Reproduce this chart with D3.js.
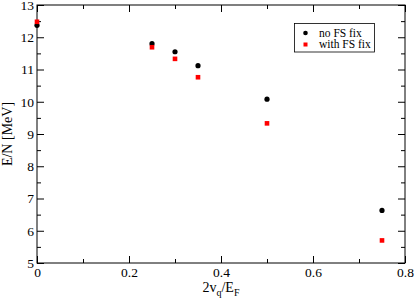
<!DOCTYPE html>
<html>
<head>
<meta charset="utf-8">
<script src="https://cdn.jsdelivr.net/npm/d3@7"></script>
<style>
  body { margin: 0; background: #fff; }
  svg { display: block; font-family: "Liberation Serif", "DejaVu Serif", serif; }
</style>
</head>
<body>
<div id="chart"></div>
<script>
// data
const xValues = [0, 0.25, 0.3, 0.35, 0.5, 0.75];
const noFix = [12.37, 11.8, 11.55, 11.12, 10.08, 6.63];
const withFix = [12.48, 11.69, 11.33, 10.76, 9.33, 5.70];
const xTicks = [0, 0.2, 0.4, 0.6, 0.8];
const xMinor = [0.1, 0.3, 0.5, 0.7];
const yTicks = [5, 6, 7, 8, 9, 10, 11, 12, 13];
const yMinor = [5.5, 6.5, 7.5, 8.5, 9.5, 10.5, 11.5, 12.5];
const seriesNames = ["no FS fix", "with FS fix"];

const W = 415, H = 303;
const margin = { top: 5, right: 10, bottom: 40, left: 37 };
const width = W - margin.left - margin.right;
const height = H - margin.top - margin.bottom;

const svg = d3.select("#chart").append("svg")
    .attr("width", W)
    .attr("height", H);

const g = svg.append("g")
    .attr("transform", "translate(" + margin.left + "," + margin.top + ")");

const x = d3.scaleLinear().domain([0, 0.8]).range([0, width]);
const y = d3.scaleLinear().domain([5, 13]).range([height, 0]);

const fmt = d3.format("~g");

// major + minor ticks on all four sides, pointing inward
function addAxis(axisFn, scale, values, size, labels, transform) {
    const a = axisFn(scale).tickValues(values).tickSizeInner(-size).tickSizeOuter(0);
    if (labels) a.tickFormat(fmt).tickPadding(axisFn === d3.axisBottom ? 4 : 3);
    else a.tickFormat("");
    const ax = g.append("g").attr("transform", transform).call(a);
    ax.select(".domain").remove();
    ax.selectAll("line").attr("stroke", "#000");
    ax.selectAll("text")
        .attr("fill", "#000")
        .style("font-family", "Liberation Serif, serif")
        .style("font-size", "13.5px");
    return ax;
}

addAxis(d3.axisBottom, x, xTicks, 7, true, "translate(0," + height + ")");
addAxis(d3.axisBottom, x, xMinor, 4, false, "translate(0," + height + ")");
addAxis(d3.axisTop, x, xTicks, 7, false, "translate(0,0)");
addAxis(d3.axisTop, x, xMinor, 4, false, "translate(0,0)");
addAxis(d3.axisLeft, y, yTicks, 7, true, "translate(0,0)");
addAxis(d3.axisLeft, y, yMinor, 4, false, "translate(0,0)");
addAxis(d3.axisRight, y, yTicks, 7, false, "translate(" + width + ",0)");
addAxis(d3.axisRight, y, yMinor, 4, false, "translate(" + width + ",0)");

// frame
g.append("rect")
    .attr("x", 0).attr("y", 0)
    .attr("width", width).attr("height", height)
    .attr("fill", "none")
    .attr("stroke", "#000")
    .attr("stroke-width", 1);

// points: black circles, red squares
g.append("g").selectAll("circle")
    .data(xValues.map((d, i) => ({ x: d, y: noFix[i] })))
    .enter().append("circle")
    .attr("cx", d => x(d.x))
    .attr("cy", d => y(d.y))
    .attr("r", 2.6)
    .attr("fill", "#000");

g.append("g").selectAll("rect")
    .data(xValues.map((d, i) => ({ x: d, y: withFix[i] })))
    .enter().append("rect")
    .attr("x", d => x(d.x) - 2.3)
    .attr("y", d => y(d.y) - 2.3)
    .attr("width", 4.6)
    .attr("height", 4.6)
    .attr("fill", "#ff0000");

// legend
const lg = svg.append("g").attr("transform", "translate(294.5,23.5)");
lg.append("rect")
    .attr("width", 80).attr("height", 28.5)
    .attr("fill", "#fff").attr("stroke", "#000").attr("stroke-width", 0.8);
lg.append("circle").attr("cx", 11).attr("cy", 9.5).attr("r", 2.3).attr("fill", "#000");
lg.append("rect").attr("x", 9).attr("y", 19).attr("width", 4).attr("height", 4).attr("fill", "#ff0000");
lg.selectAll("text.lab")
    .data(seriesNames)
    .enter().append("text")
    .attr("class", "lab")
    .attr("x", 24.5)
    .attr("y", (d, i) => 13 + i * 11.5)
    .style("font-size", "11.5px")
    .text(d => d);

// axis titles
const xt = svg.append("text")
    .attr("x", margin.left + width / 2)
    .attr("y", 292)
    .attr("text-anchor", "middle")
    .style("font-size", "14px");
xt.append("tspan").text("2v");
xt.append("tspan").attr("dy", 4).style("font-size", "10px").text("q");
xt.append("tspan").attr("dy", -4).text("/E");
xt.append("tspan").attr("dy", 4).style("font-size", "10px").text("F");

svg.append("text")
    .attr("transform", "translate(12," + (margin.top + height / 2) + ") rotate(-90)")
    .attr("text-anchor", "middle")
    .style("font-size", "14px")
    .text("E/N [MeV]");
</script>
</body>
</html>
